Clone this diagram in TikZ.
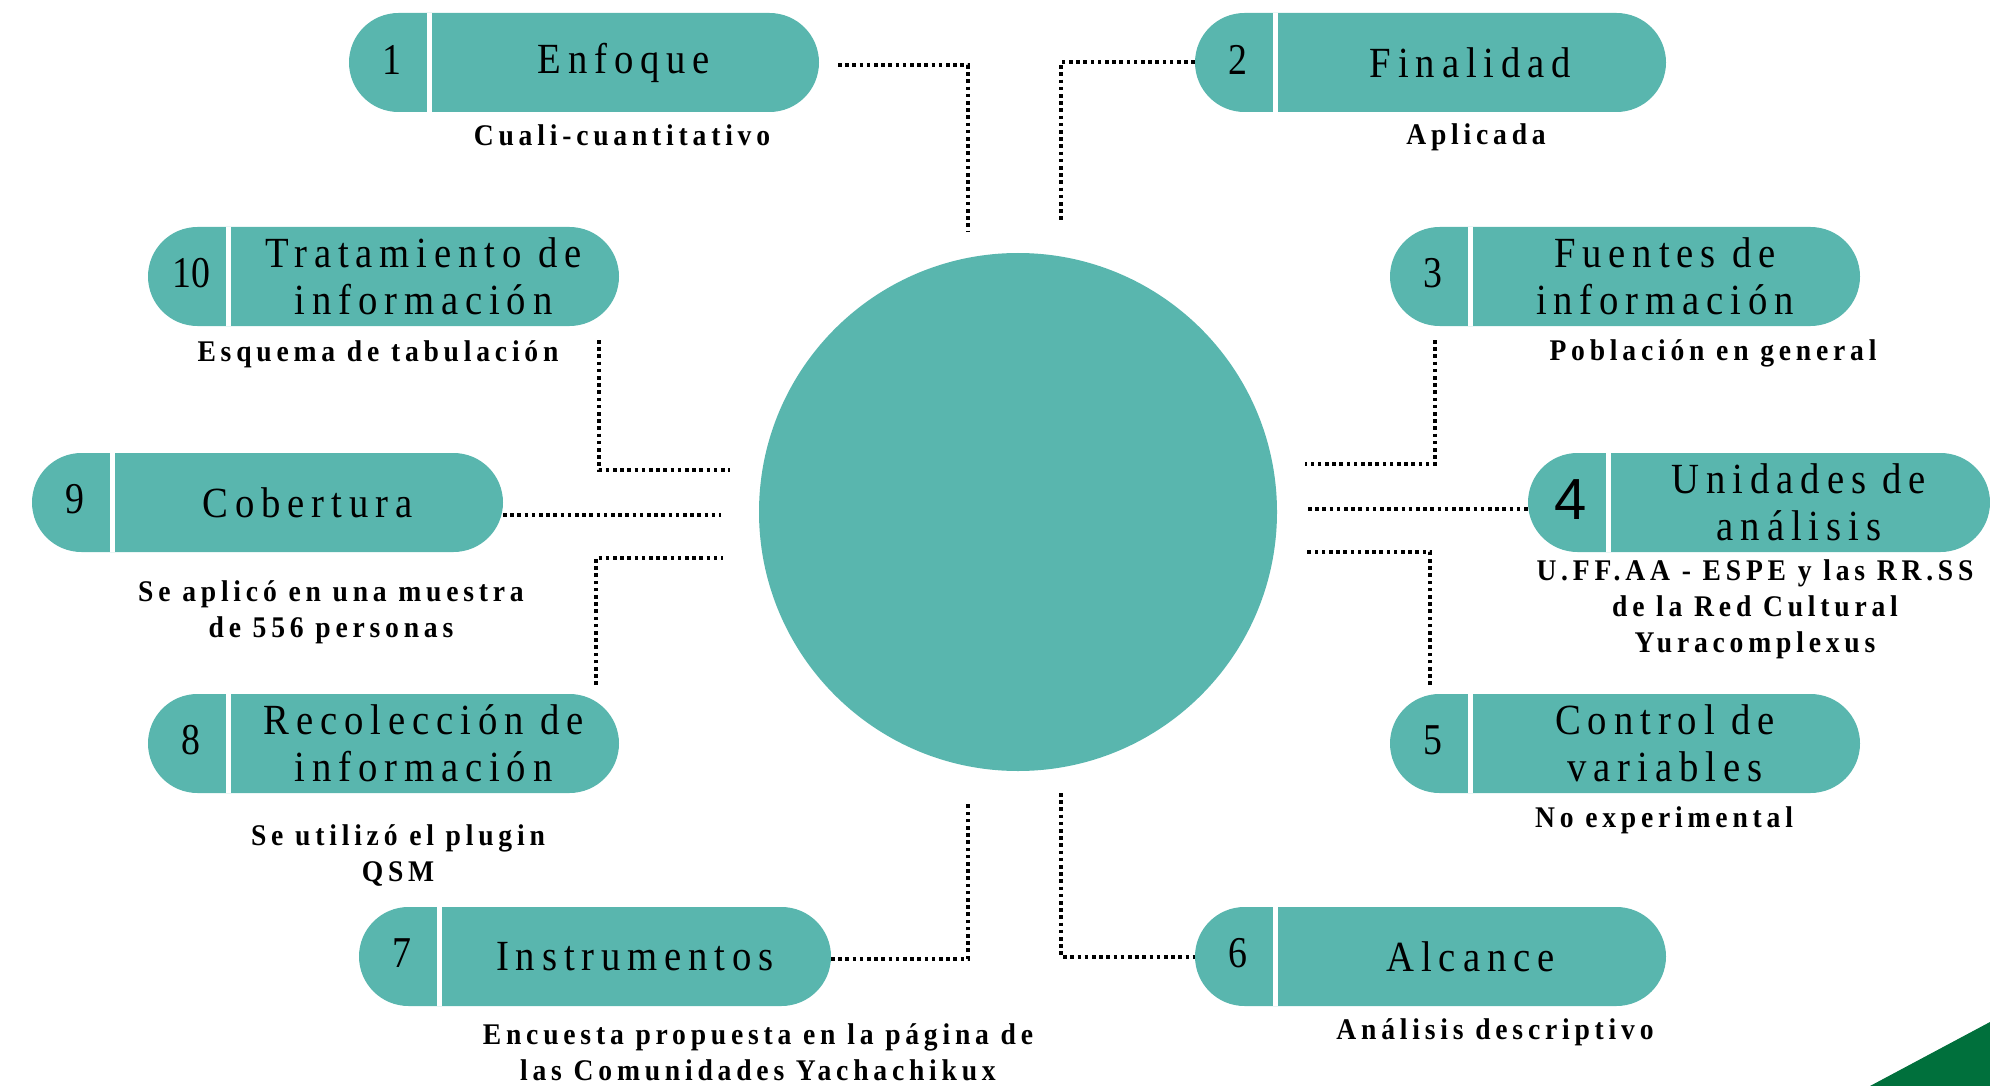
\documentclass[tikz,border=0pt]{standalone}
\usepackage{fontspec}
\setmainfont{Liberation Serif}
\newfontfamily\pillfont[LetterSpace=16,FakeStretch=0.9]{Liberation Serif}
\newfontfamily\subfont[LetterSpace=16,FakeStretch=0.92]{Liberation Serif}
\newfontfamily\numfont[FakeStretch=0.86]{Liberation Serif}
\newfontfamily\numsans{Liberation Sans}
\usetikzlibrary{calc}
\definecolor{teal1}{HTML}{59B6AE}
\definecolor{green1}{HTML}{00703C}
\tikzset{
  pill/.style={fill=teal1, rounded corners=49.5pt, minimum height=99pt, inner sep=0pt, outer sep=0pt},
  divider/.style={draw=white, line width=5pt},
  numtxt/.style={font=\numfont\fontsize{44}{44}\selectfont, inner sep=0pt},
  pilltxt/.style={font=\pillfont\fontsize{43}{47}\selectfont, align=center, inner sep=0pt},
  subtxt/.style={font=\subfont\bfseries\fontsize{30}{36}\selectfont, align=center, inner sep=0pt},
  dotline/.style={draw=black, line width=4pt, dash pattern=on 3.6pt off 3.6pt}
}
\newcommand\mkpill[6]{% name, left x, top y, width, number, text
  \node[pill, minimum width=#4pt, anchor=north west] (#1) at (#2,#3) {};
  \draw[divider] ($(#1.north west)+(80,0)$) -- ($(#1.south west)+(80,0)$);
  \node[numtxt] (#1n) at ($(#1.west)+(43,-3)$) {#5};
  \node[pilltxt] (#1t) at ($(#1.west)!0.5!(#1.east)+(40,0)$) {#6};
}
\begin{document}
\begin{tikzpicture}[x=1pt, y=-1pt]
\useasboundingbox (0,0) rectangle (1990,1086);
% central circle
\node[circle, fill=teal1, minimum size=518pt, inner sep=0pt] (hub) at (1018,512) {};
% corner triangle
\fill[green1] (1870,1086) -- (1990,1022) -- (1990,1086) -- cycle;
% pills
\mkpill{p1}{349}{13}{470}{1}{Enfoque}
\mkpill{p2}{1195}{13}{471}{2}{Finalidad}
\mkpill{p3}{1390}{227}{470}{3}{Fuentes de\\información}
\mkpill{p4}{1528}{453}{462}{\numsans\fontsize{58}{58}\selectfont 4}{Unidades de\\análisis}
\mkpill{p5}{1390}{694}{470}{5}{Control de\\variables}
\mkpill{p6}{1195}{907}{471}{6}{Alcance}
\mkpill{p7}{359}{907}{472}{7}{Instrumentos}
\mkpill{p8}{148}{694}{471}{8}{Recolección de\\información}
\mkpill{p9}{32}{453}{471}{9}{Cobertura}
\mkpill{p10}{148}{227}{471}{10}{Tratamiento de\\información}
% sublabels
\node[subtxt] (s1) at (622,135) {Cuali-cuantitativo};
\node[subtxt] (s2) at (1476,137) {Aplicada};
\node[subtxt] (s3) at (1713,353) {Población en general};
\node[subtxt] (s4) at (1755,609) {U.FF.AA - ESPE y las RR.SS\\de la Red Cultural\\Yuracomplexus};
\node[subtxt] (s5) at (1664,820) {No experimental};
\node[subtxt] (s6) at (1495,1032) {Análisis descriptivo};
\node[subtxt] (s7) at (758,1052) {Encuesta propuesta en la página de\\las Comunidades Yachachikux};
\node[subtxt] (s8) at (398,856) {Se utilizó el plugin\\QSM};
\node[subtxt] (s9) at (331,612) {Se aplicó en una muestra\\de 556 personas};
\node[subtxt] (s10) at (378,354) {Esquema de tabulación};
% connector ends near the hub
\coordinate (e1) at (968,232);
\coordinate (e2) at (1061,222);
\coordinate (e3) at (1305,464);
\coordinate (e4) at (1308,509);
\coordinate (e5) at (1305,552);
\coordinate (e6) at (1061,793);
\coordinate (e7) at (968,802);
\coordinate (e8) at (723,558);
\coordinate (e9) at (721,515);
\coordinate (e10) at (730,470);
% connectors
\draw[dotline] ($(p1.east)+(19,3)$) -| (e1);
\draw[dotline] (p2.west) -| (e2);
\draw[dotline] ($(p3.south west)+(45,14)$) |- (e3);
\draw[dotline] (e4) -- (e4 -| p4.west);
\draw[dotline] ($(p5.north west)+(40,-9)$) |- (e5);
\draw[dotline] (e6) |- (p6.west);
\draw[dotline] (p7.east |- 0,959) -| (e7);
\draw[dotline] ($(p8.north west)+(448,-9)$) |- (e8);
\draw[dotline] (p9.east |- e9) -- (e9);
\draw[dotline] ($(p10.south west)+(451,14)$) |- (e10);
\end{tikzpicture}
\end{document}
